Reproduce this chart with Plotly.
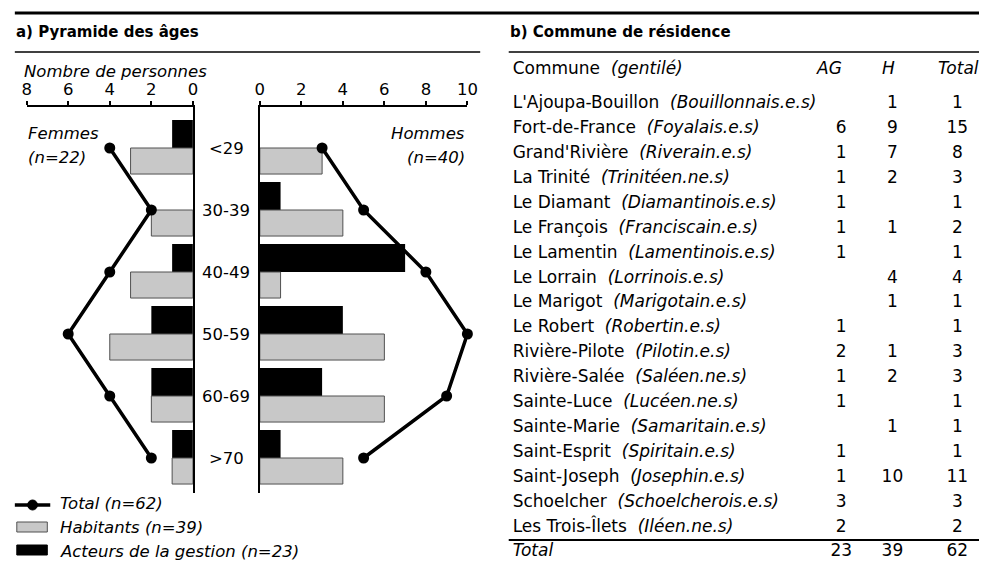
import plotly.graph_objects as go

# ---------------- DATA ----------------
age_groups = ["<29", "30-39", "40-49", "50-59", "60-69", ">70"]
femmes_habitants = [3, 2, 3, 4, 2, 1]
femmes_acteurs = [1, 0, 1, 2, 2, 1]
femmes_total = [4, 2, 4, 6, 4, 2]
hommes_habitants = [3, 4, 1, 6, 6, 4]
hommes_acteurs = [0, 1, 7, 4, 3, 1]
hommes_total = [3, 5, 8, 10, 9, 5]
x_ticks_f = [8, 6, 4, 2, 0]
x_ticks_h = [0, 2, 4, 6, 8, 10]

communes = ["L'Ajoupa-Bouillon", "Fort-de-France", "Grand'Rivière", "La Trinité",
            "Le Diamant", "Le François", "Le Lamentin", "Le Lorrain", "Le Marigot",
            "Le Robert", "Rivière-Pilote", "Rivière-Salée", "Sainte-Luce",
            "Sainte-Marie", "Saint-Esprit", "Saint-Joseph", "Schoelcher", "Les Trois-Îlets"]
gentiles = ["Bouillonnais.e.s", "Foyalais.e.s", "Riverain.e.s", "Trinitéen.ne.s",
            "Diamantinois.e.s", "Franciscain.e.s", "Lamentinois.e.s", "Lorrinois.e.s",
            "Marigotain.e.s", "Robertin.e.s", "Pilotin.e.s", "Saléen.ne.s", "Lucéen.ne.s",
            "Samaritain.e.s", "Spiritain.e.s", "Josephin.e.s", "Schoelcherois.e.s", "Iléen.ne.s"]
ag = [None, 6, 1, 1, 1, 1, 1, None, None, 1, 2, 1, 1, None, 1, 1, 3, 2]
h = [1, 9, 7, 2, None, 1, None, 4, 1, None, 1, 2, None, 1, None, 10, None, None]
total_label = "Total"

# ---------------- STYLE / LAYOUT ----------------
W, H = 990, 564
FONT = "DejaVu Sans"
FS = 16.5      # left panel text
FS_T = 17      # table text
GREY = "#c8c8c8"
GREY_LINE = "#505050"


def px(x):
    return x / W


def py(y):
    return 1 - y / H


fig = go.Figure()

idx = list(range(len(age_groups)))
BW_BLACK, BW_GREY = 0.45, 0.42

# Women (left)
fig.add_trace(go.Bar(y=idx, x=femmes_acteurs, orientation="h", xaxis="x", yaxis="y",
                     marker=dict(color="black", line=dict(width=0)),
                     offset=-BW_BLACK, width=BW_BLACK, showlegend=False))
fig.add_trace(go.Bar(y=idx, x=femmes_habitants, orientation="h", xaxis="x", yaxis="y",
                     marker=dict(color=GREY, line=dict(color=GREY_LINE, width=1)),
                     offset=0, width=BW_GREY, showlegend=False))
fig.add_trace(go.Scatter(y=idx, x=femmes_total, mode="lines+markers", xaxis="x", yaxis="y",
                         line=dict(color="black", width=3.5), marker=dict(size=11, color="black"),
                         cliponaxis=False, showlegend=False))
# Men (right)
fig.add_trace(go.Bar(y=idx, x=hommes_acteurs, orientation="h", xaxis="x2", yaxis="y2",
                     marker=dict(color="black", line=dict(width=0)),
                     offset=-BW_BLACK, width=BW_BLACK, showlegend=False))
fig.add_trace(go.Bar(y=idx, x=hommes_habitants, orientation="h", xaxis="x2", yaxis="y2",
                     marker=dict(color=GREY, line=dict(color=GREY_LINE, width=1)),
                     offset=0, width=BW_GREY, showlegend=False))
fig.add_trace(go.Scatter(y=idx, x=hommes_total, mode="lines+markers", xaxis="x2", yaxis="y2",
                         line=dict(color="black", width=3.5), marker=dict(size=11, color="black"),
                         cliponaxis=False, showlegend=False))

# ---------------- TABLE (text on hidden axes) ----------------
ROW0, ROWH = 104, 24.9
COL_NAME, COL_AG, COL_H, COL_T = 516, 850, 902, 968
HEAD_X = [516, 838, 898, 969]
n = len(communes)
rows = list(range(n))
tot = [(a or 0) + (b or 0) for a, b in zip(ag, h)]
fmt = lambda v: "" if v is None else str(v)

name_txt = [f"{c}\u00a0\u00a0<i>({g})</i>" for c, g in zip(communes, gentiles)] + [f"<i>{total_label}</i>"]
rows_all = rows + [n]
fig.add_trace(go.Scatter(x=[COL_NAME] * (n + 1), y=rows_all, text=name_txt, mode="text",
                         textposition="middle right", xaxis="x3", yaxis="y3",
                         textfont=dict(family=FONT, size=FS_T, color="black"), showlegend=False,
                         cliponaxis=False))
for col_x, vals in [(COL_AG, ag), (COL_H, h), (COL_T, tot)]:
    s = sum(v or 0 for v in vals)
    fig.add_trace(go.Scatter(x=[col_x] * (n + 1), y=rows_all,
                             text=[fmt(v) for v in vals] + [str(s)], mode="text",
                             textposition="middle center", xaxis="x3", yaxis="y3",
                             textfont=dict(family=FONT, size=FS_T, color="black"),
                             showlegend=False, cliponaxis=False))
head_row = (70 - ROW0) / ROWH
fig.add_trace(go.Scatter(x=HEAD_X, y=[head_row] * 4,
                         text=["Commune\u00a0\u00a0<i>(gentilé)</i>", "<i>AG</i>", "<i>H</i>", "<i>Total</i>"],
                         mode="text", textposition=["middle right", "middle center", "middle center", "middle center"],
                         xaxis="x3", yaxis="y3", textfont=dict(family=FONT, size=FS_T, color="black"),
                         showlegend=False, cliponaxis=False))

# ---------------- AXES ----------------
Y_TOP, Y_BOT = 107, 493
C0, CSTEP = 148, 62
yr = [(Y_BOT - C0) / CSTEP, (Y_TOP - C0) / CSTEP]

axis_common = dict(side="top", showline=True, linecolor="black", linewidth=1.5,
                   ticks="outside", ticklen=4, tickwidth=1.5, tickcolor="black",
                   showgrid=False, zeroline=False, fixedrange=True,
                   tickfont=dict(family=FONT, size=FS, color="black"))
fig.update_layout(
    width=W, height=H, margin=dict(l=0, r=0, t=0, b=0),
    paper_bgcolor="white", plot_bgcolor="rgba(0,0,0,0)",
    font=dict(family=FONT, size=FS, color="black"),
    barmode="overlay",
    xaxis=dict(domain=[px(22), px(191)], range=[8, 0], tickvals=x_ticks_f, anchor="y", **axis_common),
    yaxis=dict(domain=[py(Y_BOT), py(Y_TOP)], range=yr, side="right", showline=True,
               linecolor="black", linewidth=1.5, showticklabels=False, ticks="",
               showgrid=False, zeroline=False, anchor="x"),
    xaxis2=dict(domain=[px(259), px(470)], range=[0, 10], tickvals=x_ticks_h, anchor="y2", **axis_common),
    yaxis2=dict(domain=[py(Y_BOT), py(Y_TOP)], range=yr, side="left", showline=True,
                linecolor="black", linewidth=1.5, showticklabels=False, ticks="",
                showgrid=False, zeroline=False, anchor="x2"),
    xaxis3=dict(domain=[px(512), 1], range=[512, 990], visible=False, anchor="y3"),
    yaxis3=dict(domain=[0, py(52)], range=[(H - ROW0) / ROWH, (52 - ROW0) / ROWH],
                visible=False, anchor="x3"),
)

# ---------------- ANNOTATIONS ----------------
ann = []
for i, g in enumerate(age_groups):
    ann.append(dict(x=px(225), xref="paper", y=i, yref="y", text=g, showarrow=False,
                    xanchor="center", yanchor="middle", font=dict(family=FONT, size=FS)))
ann += [
    dict(x=px(9), y=py(32), text="<b>a) Pyramide des âges</b>", xanchor="left", size=15),
    dict(x=px(511), y=py(32), text="<b>b) Commune de résidence</b>", xanchor="left", size=15),
    dict(x=px(17), y=py(72), text="<i>Nombre de personnes</i>", xanchor="left"),
    dict(x=px(21), y=py(133), text="<i>Femmes</i>", xanchor="left"),
    dict(x=px(21), y=py(157), text="<i>(n=22)</i>", xanchor="left"),
    dict(x=px(470), y=py(133), text="<i>Hommes</i>", xanchor="right"),
    dict(x=px(470), y=py(157), text="<i>(n=40)</i>", xanchor="right"),
    dict(x=px(54), y=py(503), text="<i>Total (n=62)</i>", xanchor="left"),
    dict(x=px(54), y=py(527), text="<i>Habitants (n=39)</i>", xanchor="left"),
    dict(x=px(54), y=py(551), text="<i>Acteurs de la gestion (n=23)</i>", xanchor="left"),
]
for a in ann[len(age_groups):]:
    size = a.pop("size", FS)
    a.update(xref="paper", yref="paper", showarrow=False, yanchor="middle",
             font=dict(family=FONT, size=size, color="black"))
fig.update_layout(annotations=ann)

# ---------------- RULES & LEGEND SHAPES ----------------
shapes = [
    dict(type="line", x0=px(10), x1=1, y0=py(13), y1=py(13), line=dict(color="black", width=3)),
    dict(type="line", x0=px(10), x1=px(483), y0=py(52), y1=py(52), line=dict(color="black", width=1.5)),
    dict(type="line", x0=px(512), x1=1, y0=py(52), y1=py(52), line=dict(color="black", width=1.5)),
    dict(type="line", x0=px(512), x1=1, y0=py(540), y1=py(540), line=dict(color="black", width=2)),
    # legend
    dict(type="line", x0=px(10), x1=px(46), y0=py(505), y1=py(505), line=dict(color="black", width=3.5)),
    dict(type="circle", x0=px(23), x1=px(33), y0=py(510), y1=py(500), fillcolor="black",
         line=dict(color="black", width=1)),
    dict(type="rect", x0=px(12), x1=px(43), y0=py(532), y1=py(522), fillcolor=GREY,
         line=dict(color=GREY_LINE, width=1)),
    dict(type="rect", x0=px(12), x1=px(43), y0=py(555), y1=py(545), fillcolor="black",
         line=dict(color="black", width=1)),
]
for s in shapes:
    s.update(xref="paper", yref="paper")
fig.update_layout(shapes=shapes)

fig.write_html("out.html", config={"displayModeBar": False},
               post_script="document.body.style.margin='0px';document.body.style.overflow='hidden';")
